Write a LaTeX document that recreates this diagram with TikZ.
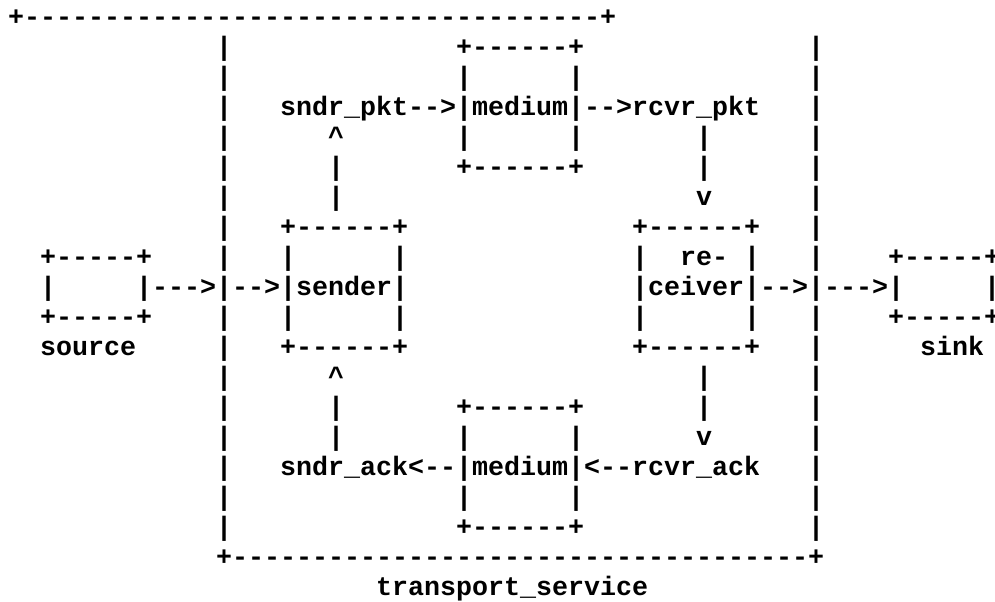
\documentclass[tikz,border=0pt]{standalone}
\usepackage{fontspec}
\setmonofont{Liberation Mono}

\begin{document}
\begin{tikzpicture}[
  x=12pt, y=22.5pt,
  ascii/.style={inner sep=0pt, outer sep=0pt, anchor=base west,
    font=\ttfamily\bfseries\fontsize{20}{22.5}\selectfont},
]
  \clip (-0.5,0.8333) rectangle (61.6875,-19.2);

  \node[ascii] (tstop) at (0,0) {+------------------------------------+};
  \foreach \r in {1,2,3,4,5,6,7,8,10,11,12,13,14,15,16,17} {
    \node[ascii] (tsleft\r)  at (13,-\r) {|};
    \node[ascii] (tsright\r) at (50,-\r) {|};
  }
  \node[ascii] (tsbottom) at (13,-18) {+------------------------------------+};
  \node[ascii] (tslabel)  at (23,-19) {transport\_service};

  \node[ascii] (srctop)   at (2,-8)  {+-----+};
  \node[ascii] (srcside)  at (2,-9)  {|};
  \node[ascii] (srcout)   at (8,-9)  {|--->|-->|sender|};
  \node[ascii] (srcbot)   at (2,-10) {+-----+};
  \node[ascii] (srclabel) at (2,-11) {source};

  \node[ascii] (sndtop)    at (17,-7)  {+------+};
  \node[ascii] (sndleftA)  at (17,-8)  {|};
  \node[ascii] (sndrightA) at (24,-8)  {|};
  \node[ascii] (sndleftB)  at (17,-10) {|};
  \node[ascii] (sndrightB) at (24,-10) {|};
  \node[ascii] (sndbot)    at (17,-11) {+------+};

  \node[ascii] (rcvtop)    at (39,-7)  {+------+};
  \node[ascii] (rcvleftA)  at (39,-8)  {|};
  \node[ascii] (rcvre)     at (42,-8)  {re-};
  \node[ascii] (rcvrightA) at (46,-8)  {|};
  \node[ascii] (rcvout)    at (39,-9)  {|ceiver|-->|--->|};
  \node[ascii] (rcvleftB)  at (39,-10) {|};
  \node[ascii] (rcvrightB) at (46,-10) {|};
  \node[ascii] (rcvbot)    at (39,-11) {+------+};

  \node[ascii] (sinktop)   at (55,-8)  {+-----+};
  \node[ascii] (sinkside)  at (61,-9)  {|};
  \node[ascii] (sinkbot)   at (55,-10) {+-----+};
  \node[ascii] (sinklabel) at (57,-11) {sink};

  % packet path
  \node[ascii] (pmtop)    at (28,-1) {+------+};
  \node[ascii] (pmleftA)  at (28,-2) {|};
  \node[ascii] (pmrightA) at (35,-2) {|};
  \node[ascii] (pmline)   at (17,-3) {sndr\_pkt-->|medium|-->rcvr\_pkt};
  \node[ascii] (pmleftB)  at (28,-4) {|};
  \node[ascii] (pmrightB) at (35,-4) {|};
  \node[ascii] (pmbot)    at (28,-5) {+------+};
  \node[ascii] (pktupA)   at (20,-4) {\textasciicircum};
  \node[ascii] (pktupB)   at (20,-5) {|};
  \node[ascii] (pktupC)   at (20,-6) {|};
  \node[ascii] (pktdownA) at (43,-4) {|};
  \node[ascii] (pktdownB) at (43,-5) {|};
  \node[ascii] (pktdownC) at (43,-6) {v};

  % ack path
  \node[ascii] (ackupA)   at (20,-12) {\textasciicircum};
  \node[ascii] (ackupB)   at (20,-13) {|};
  \node[ascii] (ackupC)   at (20,-14) {|};
  \node[ascii] (ackdownA) at (43,-12) {|};
  \node[ascii] (ackdownB) at (43,-13) {|};
  \node[ascii] (ackdownC) at (43,-14) {v};
  \node[ascii] (amtop)    at (28,-13) {+------+};
  \node[ascii] (amleftA)  at (28,-14) {|};
  \node[ascii] (amrightA) at (35,-14) {|};
  \node[ascii] (amline)   at (17,-15) {sndr\_ack<--|medium|<--rcvr\_ack};
  \node[ascii] (amleftB)  at (28,-16) {|};
  \node[ascii] (amrightB) at (35,-16) {|};
  \node[ascii] (ambot)    at (28,-17) {+------+};
\end{tikzpicture}
\end{document}
